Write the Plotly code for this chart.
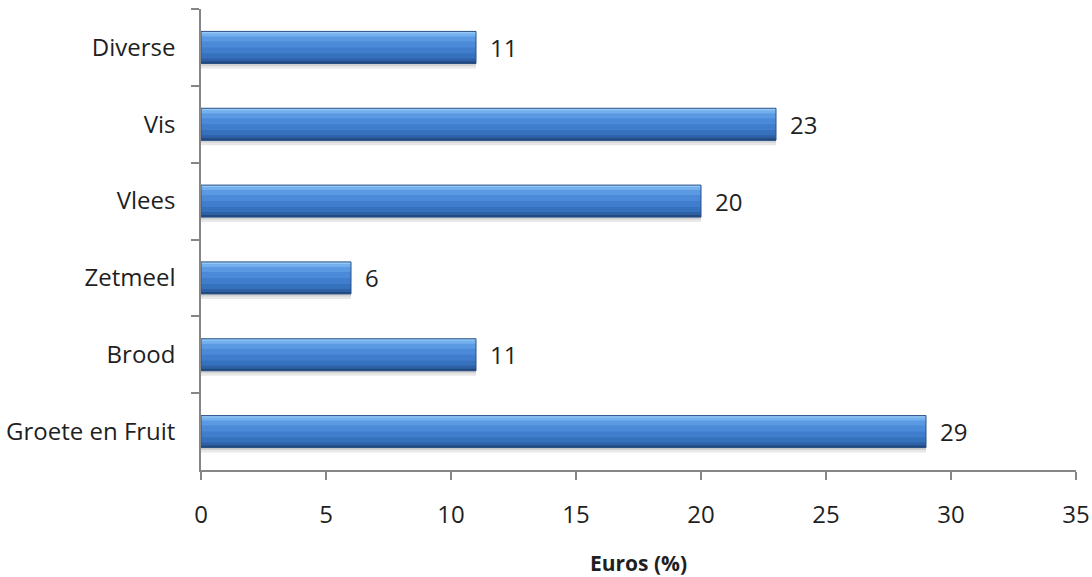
import plotly.graph_objects as go

# ---- data ----
categories = ["Diverse", "Vis", "Vlees", "Zetmeel", "Brood", "Groete en Fruit"]
values = [11, 23, 20, 6, 11, 29]
x_tick_values = [0, 5, 10, 15, 20, 25, 30, 35]
x_title = "Euros (%)"

# ---- styling ----
W, H = 1092, 577
M_L, M_R, M_T, M_B = 201, 16, 9, 107
plot_h = H - M_T - M_B
PX = plot_h / len(categories)   # pixels per category unit
BAR_PX = 32.0

FONT = "Open Sans, Calibri, sans-serif"
AXIS_COLOR = "#868686"
TEXT_COLOR = "#1f1f1f"

# vertical gradient of the bar: each band starts at p0 (px from top) and runs to the bottom
bands = [
    (0, "#92c7f6"),
    (2, "#74b0ee"),
    (5, "#5b9ae3"),
    (10, "#4b8ad8"),
    (16, "#407dcc"),
    (22, "#3671bd"),
    (27, "#2d60a4"),
    (30, "#22487c"),
]

fig = go.Figure()

# soft shadow under each bar
fig.add_trace(go.Bar(
    x=values, y=categories, orientation="h",
    offset=(BAR_PX / 2 - 1) / PX, width=6 / PX,
    marker=dict(color="rgba(110,110,110,0.16)", line=dict(width=0)),
    hoverinfo="skip", showlegend=False,
))
fig.add_trace(go.Bar(
    x=values, y=categories, orientation="h",
    offset=(BAR_PX / 2 - 1) / PX, width=3.5 / PX,
    marker=dict(color="rgba(110,110,110,0.18)", line=dict(width=0)),
    hoverinfo="skip", showlegend=False,
))

for (p0, col) in bands:
    fig.add_trace(go.Bar(
        x=values, y=categories, orientation="h",
        offset=(p0 - BAR_PX / 2) / PX, width=(BAR_PX - p0) / PX,
        marker=dict(color=col, line=dict(width=0)),
        hoverinfo="skip", showlegend=False,
    ))

# outline of the bar
fig.add_trace(go.Bar(
    x=values, y=categories, orientation="h",
    offset=-(BAR_PX / 2) / PX, width=BAR_PX / PX,
    marker=dict(color="rgba(0,0,0,0)", line=dict(color="#2a5288", width=1)),
    hovertemplate="%{y}: %{x}<extra></extra>", showlegend=False,
))

annotations = [
    dict(x=v, y=c, xref="x", yref="y", text=str(v), showarrow=False,
         xanchor="left", yanchor="middle", xshift=12,
         font=dict(family=FONT, size=24, color=TEXT_COLOR))
    for c, v in zip(categories, values)
]

fig.update_layout(
    width=W, height=H,
    margin=dict(l=M_L, r=M_R, t=M_T, b=M_B, pad=0, autoexpand=False),
    paper_bgcolor="white", plot_bgcolor="white",
    barmode="overlay",
    font=dict(family=FONT, size=24, color=TEXT_COLOR),
    annotations=annotations,
    xaxis=dict(
        range=[0, 35], tickvals=x_tick_values, automargin=False,
        showgrid=False, zeroline=False,
        showline=True, linecolor=AXIS_COLOR, linewidth=1.5,
        ticks="outside", ticklen=8, tickcolor=AXIS_COLOR, tickwidth=1.5,
        ticklabelstandoff=14,
        tickfont=dict(family=FONT, size=24, color=TEXT_COLOR),
        title=dict(text="<b>" + x_title + "</b>", standoff=29,
                   font=dict(family=FONT, size=21, color=TEXT_COLOR)),
    ),
    yaxis=dict(
        type="category", categoryorder="array", categoryarray=categories,
        range=[len(categories) - 0.5, -0.5], automargin=False,
        showgrid=False, zeroline=False,
        showline=True, linecolor=AXIS_COLOR, linewidth=1.5,
        ticks="outside", tickson="boundaries", ticklen=8,
        tickcolor=AXIS_COLOR, tickwidth=1.5,
        ticklabelstandoff=19,
        tickfont=dict(family=FONT, size=24, color=TEXT_COLOR),
    ),
)

fig.write_html("out.html")
